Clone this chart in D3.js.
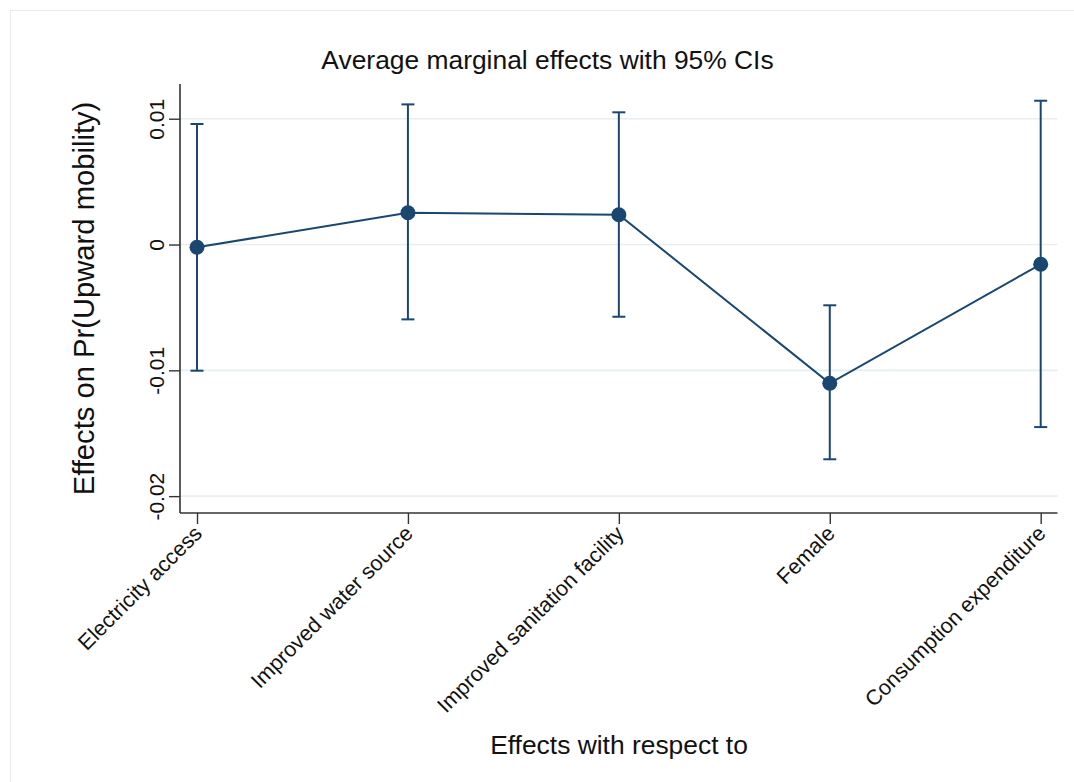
<!DOCTYPE html>
<html>
<head>
<meta charset="utf-8">
<script src="https://cdn.jsdelivr.net/npm/d3@7"></script>
<style>
  body { margin: 0; background: #fff; }
  text { font-family: "Liberation Sans", Arial, Helvetica, sans-serif; }
</style>
</head>
<body>
<script>
// values
const categories = ["Electricity access", "Improved water source", "Improved sanitation facility", "Female", "Consumption expenditure"];
const margins = [-0.00022, 0.00253, 0.00237, -0.01103, -0.00157];
const lowerCI = [-0.01003, -0.00595, -0.00574, -0.01707, -0.01451];
const upperCI = [0.00958, 0.01114, 0.01051, -0.00483, 0.01143];
const yTicks = [-0.02, -0.01, 0, 0.01];
const yTickLabels = ["-0.02", "-0.01", "0", "0.01"];

let canvasW = 1074;
let canvasH = 782;

let plot = ({top: 84, right: 1057.5, bottom: 513, left: 180})

const navy = "#1a476f";

const rows = categories.map((c, i) => ({cat: c, b: margins[i], lo: lowerCI[i], hi: upperCI[i]}));

let xScale = d3.scalePoint()
  .domain(categories)
  .range([197, 1040.7])

let yScale = d3.scaleLinear()
  .domain([-0.02134, 0.01276])
  .range([plot.bottom, plot.top])

let svg = d3.select("body")
  .append("svg")
    .attr("width", canvasW)
    .attr("height", canvasH)
    .style("background-color", "#fff");

// faint outer frame of the graph region
svg.append("rect")
  .attr("x", 10.5)
  .attr("y", 10.5)
  .attr("width", 1200)
  .attr("height", 900)
  .attr("fill", "none")
  .attr("stroke", "#ececec")
  .attr("stroke-width", 1);

// gridlines
svg.append("g")
  .selectAll("line")
  .data(yTicks)
  .enter()
    .append("line")
      .attr("x1", plot.left)
      .attr("x2", plot.right)
      .attr("y1", d => yScale(d))
      .attr("y2", d => yScale(d))
      .attr("stroke", "#e6eef1")
      .attr("stroke-width", 1.6);

// y axis
let yAxis = svg.append("g")
  .attr("transform", "translate(" + plot.left + ",0)")
d3.axisLeft(yScale)
  .tickValues(yTicks)
  .tickFormat((d, i) => yTickLabels[i])
  .tickSize(11)
  .tickSizeOuter(0)(yAxis)
yAxis.select(".domain")
  .attr("d", "M0," + plot.top + "V" + plot.bottom)
  .attr("stroke", "#333")
  .attr("stroke-width", 1.6);
yAxis.selectAll(".tick line").attr("stroke", "#333").attr("stroke-width", 1.4);
yAxis.selectAll(".tick text")
  .attr("x", null)
  .attr("dy", null)
  .attr("font-size", "21px")
  .attr("fill", "#111")
  .attr("text-anchor", "middle")
  .attr("transform", "translate(-16.5,0) rotate(-90)");

// x axis
let xAxis = svg.append("g")
  .attr("transform", "translate(0," + plot.bottom + ")")
d3.axisBottom(xScale)
  .tickSize(11)
  .tickSizeOuter(0)(xAxis)
xAxis.select(".domain")
  .attr("d", "M" + plot.left + ",0H" + plot.right)
  .attr("stroke", "#333")
  .attr("stroke-width", 1.6);
xAxis.selectAll(".tick line").attr("stroke", "#333").attr("stroke-width", 1.4);
xAxis.selectAll(".tick text")
  .attr("y", null)
  .attr("dy", "0.32em")
  .attr("font-size", "21.5px")
  .attr("fill", "#111")
  .attr("text-anchor", "end")
  .attr("transform", "translate(1,17) rotate(-45)");

// confidence intervals
let ci = svg.append("g")
  .selectAll("g")
  .data(rows)
  .enter()
    .append("g");
ci.append("line")
  .attr("x1", d => xScale(d.cat))
  .attr("x2", d => xScale(d.cat))
  .attr("y1", d => yScale(d.lo))
  .attr("y2", d => yScale(d.hi))
  .attr("stroke", navy)
  .attr("stroke-width", 2);
ci.selectAll(".cap")
  .data(d => [{x: d.cat, v: d.lo}, {x: d.cat, v: d.hi}])
  .enter()
    .append("line")
      .attr("class", "cap")
      .attr("x1", d => xScale(d.x) - 6.5)
      .attr("x2", d => xScale(d.x) + 6.5)
      .attr("y1", d => yScale(d.v))
      .attr("y2", d => yScale(d.v))
      .attr("stroke", navy)
      .attr("stroke-width", 2);

// connecting line
svg.append("path")
  .datum(rows)
  .attr("fill", "none")
  .attr("stroke", navy)
  .attr("stroke-width", 2)
  .attr("d", d3.line().x(d => xScale(d.cat)).y(d => yScale(d.b)));

// markers
svg.append("g")
  .selectAll("circle")
  .data(rows)
  .enter()
    .append("circle")
      .attr("cx", d => xScale(d.cat))
      .attr("cy", d => yScale(d.b))
      .attr("r", 7.5)
      .attr("fill", navy);

// titles
svg.append("text")
  .attr("x", 547.5)
  .attr("y", 69)
  .attr("text-anchor", "middle")
  .attr("font-size", "26.4px")
  .attr("fill", "#111")
  .text("Average marginal effects with 95% CIs");

svg.append("text")
  .attr("x", 619)
  .attr("y", 754)
  .attr("text-anchor", "middle")
  .attr("font-size", "26.4px")
  .attr("fill", "#111")
  .text("Effects with respect to");

svg.append("text")
  .attr("text-anchor", "middle")
  .attr("font-size", "29.2px")
  .attr("fill", "#111")
  .attr("transform", "translate(94," + 298.5 + ") rotate(-90)")
  .text("Effects on Pr(Upward mobility)");
</script>
</body>
</html>
